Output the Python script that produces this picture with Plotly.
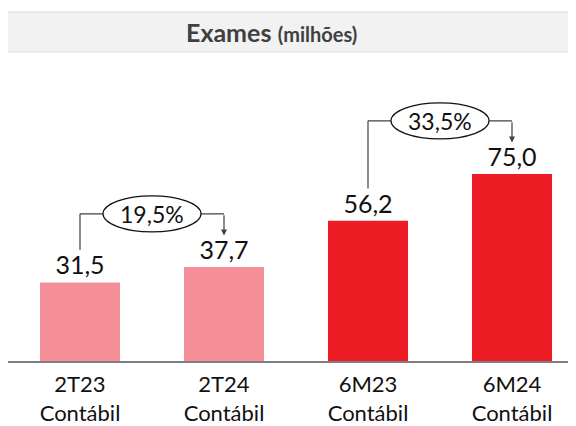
import plotly.graph_objects as go

categories = ["2T23<br>Contábil", "2T24<br>Contábil", "6M23<br>Contábil", "6M24<br>Contábil"]
values = [31.5, 37.7, 56.2, 75.0]
value_labels = ["31,5", "37,7", "56,2", "75,0"]
bar_colors = ["#f48f98", "#f48f98", "#ed1c24", "#ed1c24"]

# pairs compared: (from index, to index, growth label)
growth_pairs = [(0, 1, "19,5%"), (2, 3, "33,5%")]

font_family = "Lato, 'DejaVu Sans', sans-serif"
line_color = "#404040"

x_pos = list(range(len(categories)))

fig = go.Figure(go.Bar(
    x=x_pos,
    y=values,
    text=value_labels,
    textposition="outside",
    textfont=dict(size=25, color="#111111", family=font_family),
    marker=dict(color=bar_colors, line=dict(width=0)),
    width=0.556,
    cliponaxis=False,
    constraintext="none",
    hoverinfo="skip",
))

shapes = []
annotations = []

# title box
shapes.append(dict(type="rect", xref="paper", yref="paper",
                   x0=-0.0035, x1=1.02, y0=1.0266, y1=1.1595,
                   fillcolor="#f2f2f2", line=dict(color="#d9d9d9", width=1), layer="below"))
annotations.append(dict(xref="paper", yref="paper", x=0.458, y=1.093,
                        xanchor="center", yanchor="middle",
                        text="<b>Exames</b> <b><span style='font-size:20px'>(milhões)</span></b>",
                        showarrow=False, font=dict(size=25, color="#404040", family=font_family)))

for i, j, label in growth_pairs:
    top = max(values[i], values[j])
    level = top + 21.3
    mid = (x_pos[i] + x_pos[j]) / 2
    # left riser
    shapes.append(dict(type="line", xref="x", yref="y", x0=x_pos[i], x1=x_pos[i],
                       y0=values[i] + 13, y1=level, line=dict(color=line_color, width=1.2)))
    # horizontal connector
    shapes.append(dict(type="line", xref="x", yref="y", x0=x_pos[i], x1=x_pos[j],
                       y0=level, y1=level, line=dict(color=line_color, width=1.2)))
    # ellipse
    shapes.append(dict(type="circle", xref="x", yref="y",
                       xsizemode="pixel", xanchor=mid, x0=-49, x1=49,
                       ysizemode="pixel", yanchor=level, y0=-18, y1=18,
                       fillcolor="white", line=dict(color="#111111", width=1.2)))
    annotations.append(dict(xref="x", yref="y", x=mid, y=level, text=label, showarrow=False,
                            font=dict(size=23, color="#111111", family=font_family)))
    # arrow down to the second bar
    annotations.append(dict(xref="x", yref="y", x=x_pos[j], y=values[j] + 12.6,
                            axref="x", ayref="y", ax=x_pos[j], ay=level, text="",
                            showarrow=True, arrowhead=2, arrowsize=1, arrowwidth=1.2,
                            arrowcolor=line_color, standoff=0))

fig.update_layout(
    width=576, height=426,
    margin=dict(l=0, r=0, t=52, b=73),
    plot_bgcolor="white", paper_bgcolor="white",
    showlegend=False,
    shapes=shapes,
    annotations=annotations,
    xaxis=dict(tickmode="array", tickvals=x_pos, ticktext=categories,
               range=[-0.5, 3.5], showgrid=False, zeroline=False,
               showline=True, linecolor="#808080", linewidth=2, ticks="",
               ticklabelstandoff=3,
               tickfont=dict(size=22, color="#111111", family=font_family)),
    yaxis=dict(range=[0, 120.7], visible=False, showgrid=False, zeroline=False),
)

fig.write_html("out.html")
